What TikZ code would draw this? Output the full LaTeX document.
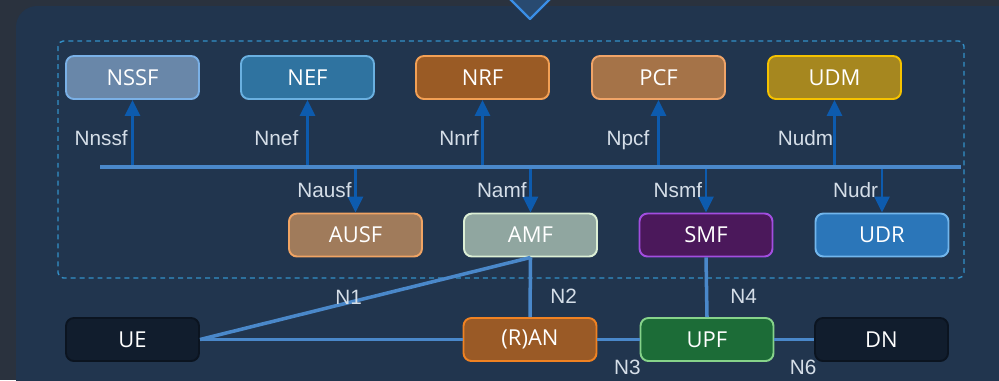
\documentclass[tikz,border=0pt]{standalone}
\usepackage{fontspec}
\setmainfont{Liberation Sans}
\newfontfamily\boxfont{Open Sans}
\usetikzlibrary{arrows.meta}
\definecolor{bgdark}{HTML}{2A323E}
\definecolor{panel}{HTML}{21354E}
\definecolor{chevfill}{HTML}{284A70}
\definecolor{chevline}{HTML}{3A8EE6}
\definecolor{dashline}{HTML}{3390C8}
\definecolor{busblue}{HTML}{4A88CA}
\definecolor{arrblue}{HTML}{0D5BAE}
\definecolor{lbltxt}{HTML}{D5DEE8}
\definecolor{nssffill}{HTML}{6987A9}\definecolor{nssfline}{HTML}{7AB0E6}
\definecolor{neffill}{HTML}{2F73A0}\definecolor{nefline}{HTML}{6AB0E0}
\definecolor{nrffill}{HTML}{9A5B25}\definecolor{nrfline}{HTML}{F2A055}
\definecolor{pcffill}{HTML}{A57348}\definecolor{pcfline}{HTML}{F0A468}
\definecolor{udmfill}{HTML}{A6871F}\definecolor{udmline}{HTML}{F5C200}
\definecolor{ausffill}{HTML}{A07B5B}\definecolor{ausfline}{HTML}{F0A464}
\definecolor{amffill}{HTML}{90A6A0}\definecolor{amfline}{HTML}{DCEFD5}
\definecolor{smffill}{HTML}{4B185B}\definecolor{smfline}{HTML}{A24EE0}
\definecolor{udrfill}{HTML}{2B76B9}\definecolor{udrline}{HTML}{72B6EC}
\definecolor{uefill}{HTML}{111D2D}\definecolor{ueline}{HTML}{0B1420}
\definecolor{ranfill}{HTML}{9A5A26}\definecolor{ranline}{HTML}{F08222}
\definecolor{upffill}{HTML}{1C6C37}\definecolor{upfline}{HTML}{86D38A}
\begin{document}
\begin{tikzpicture}[x=0.02cm, y=-0.02cm, line join=round, >={Triangle[width=8.5pt,length=9pt]},
	nf/.style={draw, line width=1.1pt, rounded corners=4.5pt, minimum width=2.66cm, minimum height=0.86cm, text=white, font=\boxfont\fontsize{12.5}{14}\selectfont},
	lbl/.style={text=lbltxt, font=\fontsize{11.8}{13}\selectfont, inner sep=1.5pt},
	ifc/.style={->, line width=1.5pt, draw=arrblue},
	ref/.style={line width=2pt, draw=busblue}]
	\useasboundingbox (0,0) rectangle (999,380);
	\fill [bgdark] (0,0) rectangle (999,380);
	\fill [panel, rounded corners=12pt] (16,6) rectangle (1030,400);
	\draw [chevline, fill=chevfill, line width=1.3pt] (509,-2)--(530,19)--(551,-2);
	\draw [dashline, line width=0.8pt, dash pattern=on 2.8pt off 2.3pt, rounded corners=3pt] (58,41) rectangle (964,278);
	% network functions
	\node[nf, fill=nssffill, draw=nssfline] (nssf) at (132.5,77.5) {NSSF};
	\node[nf, fill=neffill, draw=nefline] (nef) at (307.5,77.5) {NEF};
	\node[nf, fill=nrffill, draw=nrfline] (nrf) at (482.5,77.5) {NRF};
	\node[nf, fill=pcffill, draw=pcfline] (pcf) at (658.5,77.5) {PCF};
	\node[nf, fill=udmfill, draw=udmline] (udm) at (834.5,77.5) {UDM};
	\node[nf, fill=ausffill, draw=ausfline] (ausf) at (355.5,235) {AUSF};
	\node[nf, fill=amffill, draw=amfline] (amf) at (530.5,235) {AMF};
	\node[nf, fill=smffill, draw=smfline] (smf) at (706,235) {SMF};
	\node[nf, fill=udrfill, draw=udrline] (udr) at (882,235) {UDR};
	\node[nf, fill=uefill, draw=ueline] (ue) at (132.5,339.5) {UE};
	\node[nf, fill=ranfill, draw=ranline] (ran) at (530,339.5) {(R)AN};
	\node[nf, fill=upffill, draw=upfline] (upf) at (707,339.5) {UPF};
	\node[nf, fill=uefill, draw=ueline] (dn) at (881.5,339.5) {DN};
	% service bus
	\coordinate (busl) at (100,167);
	\coordinate (busr) at (961,167);
	\draw [ifc] (nssf.south |- busl)--(nssf.south) node[lbl, pos=0.43, left=0.5pt]{Nnssf};
	\draw [ifc] (nef.south |- busl)--(nef.south) node[lbl, pos=0.43, left=3pt]{Nnef};
	\draw [ifc] (nrf.south |- busl)--(nrf.south) node[lbl, pos=0.43, left]{Nnrf};
	\draw [ifc] (pcf.south |- busl)--(pcf.south) node[lbl, pos=0.4, left=3pt]{Npcf};
	\draw [ifc] (udm.south |- busl)--(udm.south) node[lbl, pos=0.43, left=-1.5pt]{Nudm};
	\draw [ifc] (ausf.north |- busl)--(ausf.north) node[lbl, pos=0.5, left]{Nausf};
	\draw [ifc] (amf.north |- busl)--(amf.north) node[lbl, pos=0.5, left]{Namf};
	\draw [ifc] (smf.north |- busl)--(smf.north) node[lbl, pos=0.5, left]{Nsmf};
	\draw [ifc] (udr.north |- busl)--(udr.north) node[lbl, pos=0.5, left]{Nudr};
	\draw [busblue, line width=1.9pt] (busl)--(busr);
	% reference points
	\draw [ref] (ue.east)--(ran.west);
	\draw [ref] (ue.east)--(amf.south) node[lbl, pos=0.45, yshift=3pt]{N1};
	\draw [ref] (amf.south)--(ran.north) node[lbl, pos=0.65, right=9pt]{N2};
	\draw [ref] (smf.south)--(upf.north) node[lbl, pos=0.65, right=11pt]{N4};
	\draw [ref] (ran.east)--(upf.west) node[lbl, midway, below=9pt, xshift=5pt]{N3};
	\draw [ref] (upf.east)--(dn.west) node[lbl, midway, below=9pt, xshift=5pt]{N6};
\end{tikzpicture}
\end{document}
